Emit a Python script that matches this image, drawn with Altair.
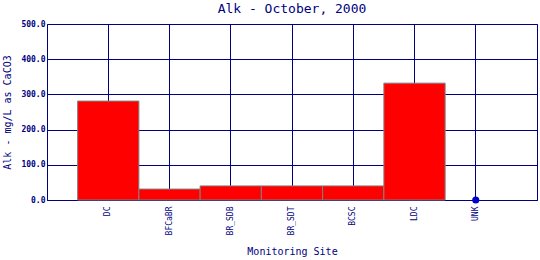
import altair as alt
import pandas as pd

sites = ["DC", "BFCaBR", "BR_SDB", "BR_SDT", "BCSC", "LDC", "UNK"]
alk = [281, 31, 40, 40, 40, 332, 0]
bar_sites = ["DC", "BFCaBR", "BR_SDB", "BR_SDT", "BCSC", "LDC"]
point_sites = ["UNK"]
point_vals = [0]
y_ticks = [0, 100, 200, 300, 400, 500]

NAVY = "#000080"
FONT = "DejaVu Sans Mono"

df = pd.DataFrame({"site": sites, "alk": alk})
dp = pd.DataFrame({"site": point_sites, "alk": point_vals})

x = alt.X(
    "site:N",
    scale=alt.Scale(domain=sites, paddingInner=0, paddingOuter=0.5),
    axis=alt.Axis(
        title="Monitoring Site",
        labelAngle=270,
        labelAlign="right",
        labelBaseline="middle",
        labelFont=FONT,
        labelFontSize=8,
        labelColor=NAVY,
        labelPadding=6,
        labelOverlap=False,
        titleFont=FONT,
        titleFontSize=10,
        titleFontWeight="normal",
        titleColor=NAVY,
        titlePadding=12,
        grid=True,
        gridColor=NAVY,
        gridWidth=1,
        gridOpacity=1,
        domainColor=NAVY,
        ticks=False,
    ),
)

y = alt.Y(
    "alk:Q",
    scale=alt.Scale(domain=[0, 500], nice=False),
    axis=alt.Axis(
        title="Alk - mg/L as CaCO3",
        values=y_ticks,
        tickCount=20,
        format=".1f",
        labelFont=FONT,
        labelFontSize=8,
        labelFontWeight="bold",
        labelColor=NAVY,
        labelPadding=2,
        labelOverlap=False,
        labelFlush=False,
        titleFont=FONT,
        titleFontSize=10,
        titleFontWeight="normal",
        titleColor=NAVY,
        titlePadding=8,
        grid=True,
        gridColor=NAVY,
        gridWidth=1,
        gridOpacity=1,
        domainColor=NAVY,
        ticks=False,
    ),
)

bars = (
    alt.Chart(df)
    .transform_filter(alt.FieldOneOfPredicate(field="site", oneOf=bar_sites))
    .mark_bar(color="#ff0000", stroke="#808080", strokeWidth=1, opacity=1)
    .encode(x=x, y=y)
)

pts = alt.Chart(dp).mark_point(
    filled=True, color="#0000cc", size=50, opacity=1
).encode(x=x, y=y)

chart = (
    alt.layer(bars, pts)
    .properties(
        width=490,
        height=176,
        autosize=alt.AutoSizeParams(type="none"),
        padding={"left": 47, "top": 24, "right": 3, "bottom": 60},
        title=alt.Title(
            "Alk - October, 2000",
            font=FONT,
            fontSize=13,
            fontWeight="normal",
            color=NAVY,
            anchor="middle",
            offset=4,
        ),
        background="white",
    )
    .configure_view(stroke=NAVY, strokeWidth=1)
)

chart.save("out.html", embed_options={"renderer": "svg", "actions": False})
